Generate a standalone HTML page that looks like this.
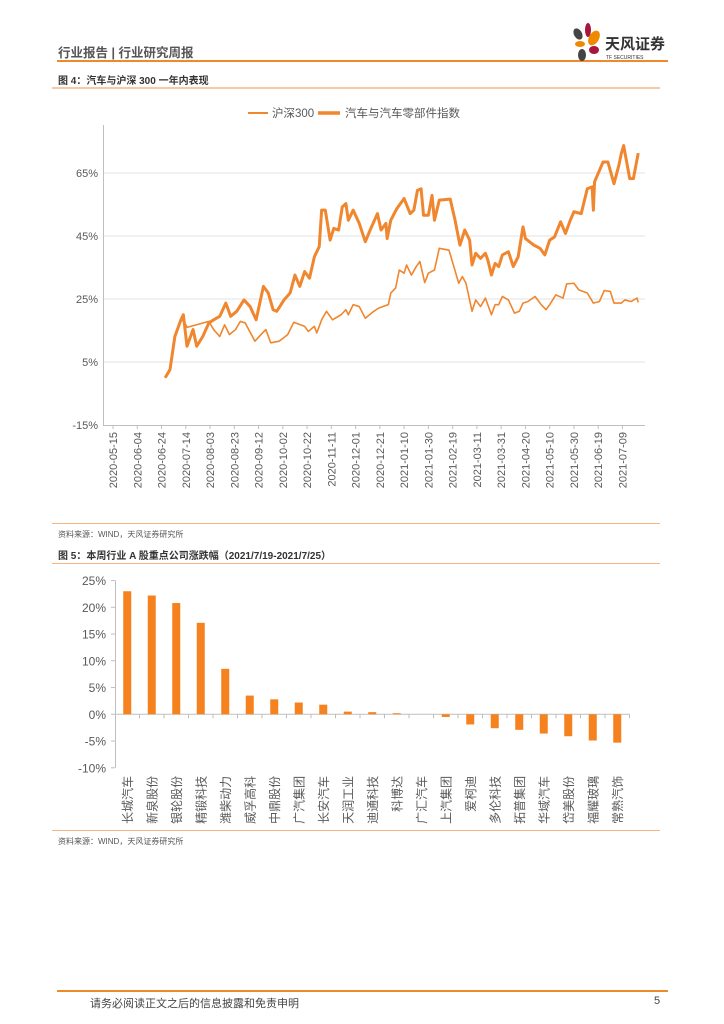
<!DOCTYPE html>
<html><head><meta charset="utf-8">
<style>
body{margin:0;background:#fff;}
#page{position:relative;width:724px;height:1024px;overflow:hidden;background:#fff;font-family:"Liberation Sans","Noto Sans CJK SC",sans-serif;}
.abs{position:absolute;}
</style></head>
<body>
<div id="page">
  <div class="abs" style="left:58px;top:42px;font-size:12.5px;color:#555;font-weight:bold;">行业报告 | 行业研究周报</div>
  <div class="abs" style="left:57px;top:60px;width:611px;height:2px;background:#ef8a2a;"></div>
  <svg class="abs" style="left:568px;top:22px" width="100" height="42">
    <ellipse cx="10" cy="12" rx="4" ry="6" fill="#444" transform="rotate(-30 10 12)"/>
    <ellipse cx="20" cy="8" rx="3" ry="7" fill="#a8163c"/>
    <ellipse cx="26" cy="16" rx="5" ry="8" fill="#ef8a00" transform="rotate(30 26 16)"/>
    <ellipse cx="12" cy="22" rx="5" ry="3" fill="#ef8a00"/>
    <ellipse cx="26" cy="28" rx="5" ry="4" fill="#a8163c"/>
    <ellipse cx="14" cy="33" rx="4" ry="6" fill="#444"/>
    <text x="37" y="27" font-size="15" font-weight="bold" fill="#333" font-family="Liberation Sans, Noto Sans CJK SC, sans-serif">天风证券</text>
    <text x="38" y="37" font-size="5" fill="#333" font-family="Liberation Sans, sans-serif">TF SECURITIES</text>
  </svg>
  <div class="abs" style="left:58px;top:72px;font-size:10px;color:#333;font-weight:bold;">图 4：汽车与沪深 300 一年内表现</div>
  <div class="abs" style="left:52px;top:87px;width:608px;height:2px;background:#f8c9a2;"></div>

  <svg id="lineChart" class="abs" style="left:0;top:90px" width="724" height="430"></svg>

  <div class="abs" style="left:52px;top:523px;width:608px;height:1px;background:#f5b585;"></div>
  <div class="abs" style="left:58px;top:529px;font-size:8px;color:#555;">资料来源：WIND，天风证券研究所</div>
  <div class="abs" style="left:58px;top:547px;font-size:10px;color:#333;font-weight:bold;">图 5：本周行业 A 股重点公司涨跌幅（2021/7/19-2021/7/25）</div>
  <div class="abs" style="left:52px;top:563px;width:608px;height:1px;background:#f5b585;"></div>

  <svg id="barChart" class="abs" style="left:0;top:564px" width="724" height="266"></svg>

  <div class="abs" style="left:52px;top:830px;width:608px;height:1px;background:#f5b585;"></div>
  <div class="abs" style="left:58px;top:836px;font-size:8px;color:#555;">资料来源：WIND，天风证券研究所</div>

  <div class="abs" style="left:57px;top:990px;width:611px;height:2px;background:#ef8a2a;"></div>
  <div class="abs" style="left:90px;top:995px;font-size:11px;color:#444;">请务必阅读正文之后的信息披露和免责申明</div>
  <div class="abs" style="left:654px;top:995px;font-size:11px;color:#444;">5</div>
</div>
<script>
const NS="http://www.w3.org/2000/svg";
// ---- line chart data (days since 2020-05-15, value %) ----
const dateLabels=["2020-05-15","2020-06-04","2020-06-24","2020-07-14","2020-08-03","2020-08-23","2020-09-12","2020-10-02","2020-10-22","2020-11-11","2020-12-01","2020-12-21","2021-01-10","2021-01-30","2021-02-19","2021-03-11","2021-03-31","2021-04-20","2021-05-10","2021-05-30","2021-06-19","2021-07-09"];
const yTickValues=[-15,5,25,45,65];
const autoDays=[43,47,51,56,58,61,66,69,74,79,83,88,93,97,102,108,113,118,124,128,132,135,141,146,150,154,158,162,166,170,172,175,179,182,186,189,192,194,198,203,208,212,218,221,225,226,229,234,240,245,248,251,254,256,260,263,265,269,278,282,286,290,294,296,299,303,307,309,312,315,318,321,326,330,334,338,340,347,352,356,360,364,369,373,377,380,386,391,395,396,397,401,404,408,413,417,419,421,426,429,433];
const autoValues=[0,2.6,13.1,18.4,20,10,15.3,10,13.1,17.4,18.4,19.5,23.7,19.5,21.1,24.7,22.6,18.4,29,26.9,21.6,21.1,24.7,26.9,32.6,29,33.7,31.6,38.4,41.6,53.2,53.2,43.7,47.4,46.9,54.2,55.3,50,53.2,49,43.2,46.9,52.1,46.9,49,44.2,50,53.7,56.9,52.1,53.2,59.5,60,51.6,51.6,57.9,50,56.4,56.7,50,42.1,46.9,43.7,35.8,39.5,37.9,39.5,37.4,32.6,36.3,35.3,39,40,35.3,38.4,47.9,44.2,42.1,41.1,39,43.7,44.7,49.5,45.8,50,52.7,52.1,60,60.6,53.2,62.2,65.8,68.5,68.5,61.6,67.4,71.1,73.7,63.2,63.2,71.3];
const hsDays=[43,47,51,56,58,61,79,83,88,92,96,101,105,109,117,122,126,130,137,144,149,158,161,166,168,172,176,181,188,192,194,198,203,208,215,219,224,227,229,233,236,240,242,246,250,253,257,260,265,269,277,281,285,288,291,296,299,303,307,312,315,318,321,326,331,335,338,342,348,353,357,360,365,371,374,380,384,391,396,401,405,410,413,419,422,427,432,433];
const hsValues=[0,2.6,13.1,17.9,18.4,16,17.9,15.3,13.1,16.8,13.7,15.3,17.9,17.4,11.6,13.7,15.3,11.1,11.6,13.7,17.6,16.3,14.7,16.3,14.2,18.4,21.1,18.4,20,21.6,20,23.2,22.6,18.9,21.1,22.1,22.8,23.2,26.9,28.5,34.2,33.2,35.8,32.6,35.3,36.9,30.2,33.2,34.2,41.1,40.5,35.3,30,32.1,30,21.1,24.7,22.6,25.3,20,23.2,23.2,25.8,24.7,20.5,21.1,23.7,24.2,25.8,23.2,21.6,23.2,26.3,25.3,29.8,30,27.9,26.9,23.7,24.2,27.7,27.4,23.7,23.7,24.7,24.2,25.3,23.9];

(function(){
  const svg=document.getElementById('lineChart');
  const oy=90;
  const X=d=>113+d*1.213;
  const Y=v=>(173-oy)+(65-v)*63/20;
  function el(tag,attrs,parent){const e=document.createElementNS(NS,tag);for(const k in attrs)e.setAttribute(k,attrs[k]);(parent||svg).appendChild(e);return e;}
  // legend
  const lg=el('g',{});
  
  
  el('line',{x1:248,x2:268,y1:23,y2:23,stroke:'#f0862e','stroke-width':2},lg);
  const t1=el('text',{x:272,y:27,'font-size':11.5,fill:'#595959','font-family':'Liberation Sans, Noto Sans CJK SC, sans-serif'},lg);t1.textContent='沪深300';
  el('line',{x1:318,x2:340,y1:23,y2:23,stroke:'#f0862e','stroke-width':3.5},lg);
  const t2=el('text',{x:345,y:27,'font-size':11.5,fill:'#595959','font-family':'Liberation Sans, Noto Sans CJK SC, sans-serif'},lg);t2.textContent='汽车与汽车零部件指数';
  // grid and y ticks
  yTickValues.forEach(v=>{
    if(v>-15){const g=el('line',{x1:103,x2:645,y1:Y(v),y2:Y(v),stroke:'#e3e3e3','stroke-width':1});
      
      }
    const t=el('text',{x:98,y:Y(v)+4,'text-anchor':'end','font-size':11,fill:'#595959','font-family':'Liberation Sans, sans-serif'});
    
    
    t.textContent=v+'%';
  });
  const ya=el('line',{x1:103.5,x2:103.5,y1:35,y2:Y(-15),stroke:'#bfbfbf','stroke-width':1});
  
  
  const xa=el('line',{x1:103,x2:645,y1:Y(-15)+0.5,y2:Y(-15)+0.5,stroke:'#bfbfbf','stroke-width':1});
  
  
  dateLabels.forEach((s,i)=>{
    const x=X(i*20);
    el('line',{x1:x,x2:x,y1:Y(-15),y2:Y(-15)+4,stroke:'#bfbfbf'});
    const t=el('text',{x:0,y:0,'text-anchor':'end','font-size':11,fill:'#595959','font-family':'Liberation Sans, sans-serif',transform:`translate(${x+4},${Y(-15)+7}) rotate(-90)`});
    
    
    t.textContent=s;
  });
  const p1=el('polyline',{points:hsDays.map((d,i)=>X(d)+','+Y(hsValues[i])).join(' '),fill:'none',stroke:'#f0862e','stroke-width':1.6,'stroke-linejoin':'round'});
  
  
  const p2=el('polyline',{points:autoDays.map((d,i)=>X(d)+','+Y(autoValues[i])).join(' '),fill:'none',stroke:'#f0862e','stroke-width':3,'stroke-linejoin':'round'});
  
  
})();

// ---- bar chart data ----
const companies=["长城汽车","新泉股份","银轮股份","精锻科技","潍柴动力","威孚高科","中鼎股份","广汽集团","长安汽车","天润工业","迪通科技","科博达","广汇汽车","上汽集团","爱柯迪","多伦科技","拓普集团","华域汽车","岱美股份","福耀玻璃","常熟汽饰"];
const changes=[23,22.2,20.8,17.1,8.5,3.5,2.8,2.2,1.8,0.5,0.4,0.2,0,-0.5,-1.9,-2.6,-2.9,-3.6,-4.1,-4.9,-5.3];
const barTicks=[25,20,15,10,5,0,-5,-10];
(function(){
  const svg=document.getElementById('barChart');
  const oy=564;
  const left=115,band=24.5;
  const Y=v=>(714.3-oy)-v*26.75/5;
  function el(tag,attrs,parent){const e=document.createElementNS(NS,tag);for(const k in attrs)e.setAttribute(k,attrs[k]);(parent||svg).appendChild(e);return e;}
  barTicks.forEach(v=>{
    el('line',{x1:left-4,x2:left,y1:Y(v),y2:Y(v),stroke:'#bfbfbf'});
    const t=el('text',{x:106,y:Y(v)+4.5,'text-anchor':'end','font-size':12,fill:'#595959','font-family':'Liberation Sans, sans-serif'});
    
    
    t.textContent=v+'%';
  });
  const ya=el('line',{x1:left+0.5,x2:left+0.5,y1:Y(25),y2:Y(-10),stroke:'#bfbfbf'});
  
  
  const xa=el('line',{x1:left,x2:left+band*companies.length,y1:Y(0),y2:Y(0),stroke:'#bfbfbf'});
  
  
  companies.forEach((c,i)=>{
    const cx=left+band*(i+0.5);
    el('line',{x1:left+band*(i+1),x2:left+band*(i+1),y1:Y(0),y2:Y(0)+4,stroke:'#bfbfbf'});
    const v=changes[i];
    const y0=Math.min(Y(0),Y(v)),h=Math.abs(Y(v)-Y(0));
    const r=el('rect',{x:cx-4,y:y0,width:8,height:Math.max(h,0),fill:'#f5821f'});
    
    
    const t=el('text',{x:0,y:0,'text-anchor':'end','font-size':12,fill:'#595959','font-family':'Liberation Sans, Noto Sans CJK SC, sans-serif',transform:`translate(${cx+4.5},${Y(-10)+8}) rotate(-90)`});
    
    
    t.textContent=c;
  });
})();
</script>
</body></html>
